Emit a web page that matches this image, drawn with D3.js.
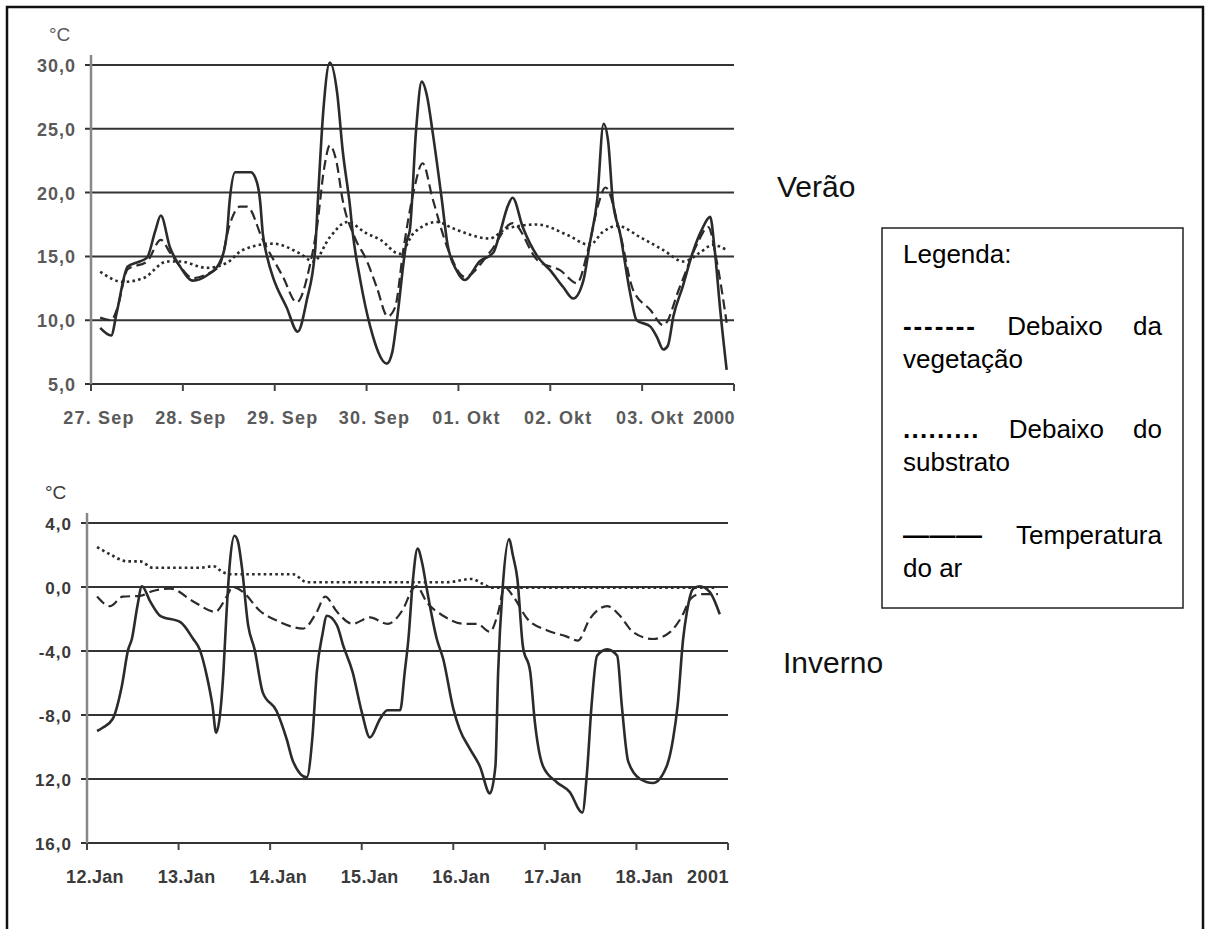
<!DOCTYPE html>
<html>
<head>
<meta charset="utf-8">
<script src="https://cdn.jsdelivr.net/npm/d3@7"></script>
<style>
  body { margin: 0; background: #fff; }
  svg { display: block; }
</style>
</head>
<body>
<svg id="chart" width="1208" height="929"></svg>
<script>
// Verão (27 Sep - 03 Okt 2000), [day offset, °C]
const summerAir = [[0.10,9.4],[0.22,8.8],[0.28,10.6],[0.40,14.2],[0.53,14.6],[0.61,14.9],[0.70,17.0],[0.76,18.2],[0.86,15.7],[0.97,14.2],[1.11,13.1],[1.26,13.5],[1.40,14.5],[1.48,16.8],[1.51,19.4],[1.57,21.6],[1.74,21.6],[1.81,20.7],[1.84,19.4],[1.87,16.8],[1.92,14.9],[1.98,13.4],[2.13,11.0],[2.25,9.1],[2.35,11.6],[2.44,15.5],[2.47,19.4],[2.53,26.5],[2.60,30.2],[2.68,27.8],[2.74,23.3],[2.82,18.9],[2.85,16.8],[2.93,13.2],[3.04,9.5],[3.22,6.6],[3.28,7.5],[3.33,10.0],[3.44,16.3],[3.47,17.0],[3.54,25.0],[3.60,28.7],[3.66,27.5],[3.72,24.7],[3.82,19.4],[3.88,16.0],[3.98,13.9],[4.07,13.15],[4.23,14.6],[4.38,15.3],[4.45,16.8],[4.54,19.0],[4.59,19.6],[4.70,17.3],[4.86,15.0],[5.00,13.9],[5.14,12.6],[5.25,11.7],[5.36,13.1],[5.43,16.0],[5.51,19.4],[5.58,25.4],[5.63,24.0],[5.68,19.4],[5.76,16.8],[5.87,12.1],[5.94,10.0],[6.09,9.5],[6.16,8.7],[6.23,7.7],[6.28,8.0],[6.34,10.3],[6.44,12.6],[6.55,15.3],[6.65,17.1],[6.74,18.1],[6.79,15.5],[6.85,10.8],[6.92,6.1]];
const summerVeg = [[0.10,10.2],[0.22,10.0],[0.28,10.8],[0.40,14.0],[0.61,14.6],[0.76,16.3],[0.86,15.3],[0.97,14.2],[1.11,13.3],[1.26,13.6],[1.40,14.3],[1.51,17.5],[1.62,18.9],[1.70,18.9],[1.87,16.3],[2.09,13.4],[2.24,11.4],[2.38,14.2],[2.46,17.3],[2.54,22.0],[2.60,23.7],[2.67,22.5],[2.74,19.4],[2.87,16.5],[3.00,14.7],[3.11,12.6],[3.23,10.3],[3.31,11.0],[3.40,15.5],[3.51,20.0],[3.61,22.3],[3.72,19.5],[3.89,15.5],[4.07,13.4],[4.34,15.3],[4.59,17.6],[4.86,14.7],[5.11,13.9],[5.29,12.9],[5.41,15.5],[5.52,19.0],[5.60,20.4],[5.76,16.8],[5.90,12.4],[6.09,10.8],[6.23,9.6],[6.41,12.6],[6.60,16.0],[6.72,17.3],[6.81,14.7],[6.92,9.8]];
const summerSub = [[0.10,13.8],[0.35,13.0],[0.57,13.3],[0.83,14.6],[0.97,14.6],[1.26,14.1],[1.48,14.5],[1.65,15.5],[1.98,16.0],[2.28,15.2],[2.42,14.6],[2.60,16.5],[2.79,17.7],[3.00,16.8],[3.15,16.3],[3.36,15.2],[3.51,16.8],[3.77,17.7],[3.94,17.2],[4.34,16.4],[4.53,17.2],[4.86,17.5],[5.18,16.7],[5.43,15.9],[5.57,16.9],[5.73,17.4],[5.98,16.5],[6.23,15.5],[6.45,14.6],[6.63,15.3],[6.77,15.9],[6.92,15.5]];

// Inverno (12 - 18 Jan 2001)
const winterAir = [[0.11,-9.0],[0.17,-8.8],[0.28,-8.25],[0.38,-6.2],[0.45,-3.9],[0.49,-3.25],[0.55,-1.2],[0.60,0.05],[0.69,-0.9],[0.80,-1.8],[1.02,-2.2],[1.16,-3.25],[1.23,-3.9],[1.31,-5.6],[1.37,-7.4],[1.41,-9.1],[1.45,-8.1],[1.49,-5.3],[1.52,-2.0],[1.56,1.5],[1.61,3.2],[1.65,2.8],[1.69,1.3],[1.76,-2.4],[1.83,-3.9],[1.92,-6.6],[2.07,-7.75],[2.18,-9.5],[2.25,-10.9],[2.40,-11.9],[2.46,-9.5],[2.51,-5.3],[2.57,-3.0],[2.62,-1.8],[2.73,-2.4],[2.80,-3.7],[2.90,-5.3],[3.00,-7.8],[3.09,-9.4],[3.20,-8.25],[3.28,-7.7],[3.42,-7.7],[3.47,-5.3],[3.51,-3.25],[3.56,0.5],[3.61,2.4],[3.66,1.5],[3.71,-0.1],[3.82,-3.25],[3.89,-4.5],[4.00,-7.6],[4.07,-8.9],[4.18,-10.1],[4.29,-11.2],[4.40,-12.9],[4.46,-11.2],[4.49,-5.3],[4.54,0.0],[4.61,3.0],[4.65,2.0],[4.70,0.5],[4.76,-3.7],[4.84,-5.3],[4.89,-8.4],[4.98,-11.2],[5.13,-12.2],[5.27,-12.8],[5.41,-14.1],[5.46,-11.6],[5.51,-7.4],[5.57,-4.3],[5.68,-3.9],[5.79,-4.3],[5.84,-7.4],[5.91,-10.9],[6.04,-12.0],[6.18,-12.25],[6.33,-11.2],[6.40,-9.5],[6.45,-7.4],[6.51,-3.25],[6.55,-1.6],[6.62,-0.1],[6.69,0.05],[6.80,-0.3],[6.91,-1.7]];
const winterVeg = [[0.11,-0.6],[0.25,-1.2],[0.39,-0.6],[0.58,-0.55],[0.72,-0.25],[0.91,-0.1],[1.16,-0.9],[1.40,-1.55],[1.53,-0.55],[1.59,0.0],[1.70,-0.3],[1.89,-1.5],[2.07,-2.1],[2.25,-2.5],[2.36,-2.6],[2.51,-1.55],[2.60,-0.6],[2.73,-1.55],[2.90,-2.3],[3.09,-1.9],[3.28,-2.3],[3.45,-1.4],[3.56,-0.1],[3.60,0.05],[3.71,-0.95],[3.89,-1.8],[4.11,-2.3],[4.26,-2.3],[4.40,-2.8],[4.49,-1.6],[4.56,0.0],[4.65,-0.55],[4.81,-2.0],[5.02,-2.7],[5.24,-3.1],[5.36,-3.35],[5.49,-2.0],[5.68,-1.2],[5.82,-1.8],[5.96,-2.8],[6.18,-3.25],[6.37,-2.8],[6.50,-1.8],[6.59,-0.75],[6.69,-0.45],[6.89,-0.45]];
const winterSub = [[0.11,2.5],[0.25,2.05],[0.44,1.6],[0.58,1.6],[0.72,1.2],[1.23,1.2],[1.38,1.3],[1.49,0.9],[1.59,0.8],[2.25,0.8],[2.40,0.3],[3.93,0.3],[4.20,0.5],[4.32,0.2],[4.43,-0.05],[6.88,-0.05]];

const summerTicks = [5, 10, 15, 20, 25, 30];
const summerTickLabels = ["5,0", "10,0", "15,0", "20,0", "25,0", "30,0"];
const summerDays = ["27. Sep", "28. Sep", "29. Sep", "30. Sep", "01. Okt", "02. Okt", "03. Okt"];
const winterTicks = [4, 0, -4, -8, -12, -16];
const winterTickLabels = ["4,0", "0,0", "-4,0", "-8,0", "12,0", "16,0"];
const winterDays = ["12.Jan", "13.Jan", "14.Jan", "15.Jan", "16.Jan", "17.Jan", "18.Jan"];

const svg = d3.select("#chart");
const ink = "#2b2b2b";
const font = "Liberation Sans, Arial, sans-serif";

// outer frame (open at the bottom)
svg.append("path")
  .attr("d", "M7,929 V7 H1203 V929")
  .attr("fill", "none")
  .attr("stroke", "#111")
  .attr("stroke-width", 2.5);

function drawPanel(opt) {
  const x = d3.scaleLinear().domain([0, 7]).range([opt.left, opt.right]);
  const y = d3.scaleLinear().domain(opt.domain).range([opt.bottom, opt.top]);
  const g = svg.append("g");

  // horizontal grid lines (bottom one is the x axis)
  g.selectAll(".grid")
    .data(opt.ticks)
    .join("line")
    .attr("x1", opt.left - 6)
    .attr("x2", opt.right)
    .attr("y1", d => y(d))
    .attr("y2", d => y(d))
    .attr("stroke", "#333")
    .attr("stroke-width", 2);

  g.append("line")
    .attr("x1", opt.left).attr("x2", opt.left)
    .attr("y1", opt.top - 10).attr("y2", opt.bottom)
    .attr("stroke", "#888")
    .attr("stroke-width", 2.5);

  // day ticks
  g.selectAll(".xtick")
    .data(d3.range(8))
    .join("line")
    .attr("x1", d => x(d)).attr("x2", d => x(d))
    .attr("y1", opt.bottom).attr("y2", opt.bottom + 7)
    .attr("stroke", "#444")
    .attr("stroke-width", 2);

  g.selectAll(".ylab")
    .data(opt.ticks)
    .join("text")
    .attr("x", opt.left - 15)
    .attr("y", d => y(d) + 7)
    .attr("text-anchor", "end")
    .attr("font-family", font)
    .attr("font-weight", "bold")
    .attr("font-size", opt.yFont)
    .attr("letter-spacing", 1)
    .attr("fill", opt.textColor)
    .text((d, i) => opt.tickLabels[i]);

  g.selectAll(".xlab")
    .data(opt.days)
    .join("text")
    .attr("x", (d, i) => x(i) + 8)
    .attr("y", opt.bottom + 40)
    .attr("text-anchor", "middle")
    .attr("font-family", font)
    .attr("font-weight", "bold")
    .attr("font-size", 18)
    .attr("letter-spacing", opt.xSpacing)
    .attr("fill", opt.textColor)
    .text(d => d);

  g.append("text")
    .attr("x", opt.right + 1)
    .attr("y", opt.bottom + 40)
    .attr("text-anchor", "end")
    .attr("font-family", font)
    .attr("font-weight", "bold")
    .attr("font-size", 18)
    .attr("letter-spacing", 0.5)
    .attr("fill", opt.textColor)
    .text(opt.year);

  g.append("text")
    .attr("x", opt.left - 42)
    .attr("y", opt.top - 24)
    .attr("font-family", font)
    .attr("font-size", 19)
    .attr("fill", opt.textColor)
    .text("°C");

  const line = d3.line()
    .x(d => x(d[0]))
    .y(d => y(d[1]))
    .curve(d3.curveMonotoneX);

  g.append("path").datum(opt.sub)
    .attr("d", line)
    .attr("fill", "none")
    .attr("stroke", ink)
    .attr("stroke-width", 2.6)
    .attr("stroke-dasharray", "2.6,3.2");

  g.append("path").datum(opt.veg)
    .attr("d", line)
    .attr("fill", "none")
    .attr("stroke", ink)
    .attr("stroke-width", 2.2)
    .attr("stroke-dasharray", "10,5");

  g.append("path").datum(opt.air)
    .attr("d", line)
    .attr("fill", "none")
    .attr("stroke", ink)
    .attr("stroke-width", 2.6)
    .attr("stroke-linejoin", "round");
}

drawPanel({
  left: 91, right: 734, top: 65, bottom: 384,
  domain: [5, 30], ticks: summerTicks, tickLabels: summerTickLabels,
  days: summerDays, year: "2000", yFont: 18, xSpacing: 1.2, textColor: "#5a5a5a",
  air: summerAir, veg: summerVeg, sub: summerSub
});

drawPanel({
  left: 87, right: 728, top: 523, bottom: 843,
  domain: [-16, 4], ticks: winterTicks, tickLabels: winterTickLabels,
  days: winterDays, year: "2001", yFont: 17, xSpacing: 0.3, textColor: "#3a3a3a",
  air: winterAir, veg: winterVeg, sub: winterSub
});

// season titles
svg.append("text").attr("x", 777).attr("y", 197)
  .attr("font-family", font).attr("font-size", 30).attr("fill", "#111").text("Verão");
svg.append("text").attr("x", 783).attr("y", 673)
  .attr("font-family", font).attr("font-size", 30).attr("fill", "#111").text("Inverno");

// legend box
const lg = { x: 882, y: 228, w: 301, h: 380, pad: 21 };
svg.append("rect")
  .attr("x", lg.x).attr("y", lg.y).attr("width", lg.w).attr("height", lg.h)
  .attr("fill", "#fff").attr("stroke", "#222").attr("stroke-width", 1.5);

const tx0 = lg.x + lg.pad, tx1 = lg.x + lg.w - lg.pad;
function legendText(str, x, yy, anchor, bold, spacing) {
  return svg.append("text")
    .attr("x", x).attr("y", yy)
    .attr("text-anchor", anchor || "start")
    .attr("font-family", font)
    .attr("font-size", 26)
    .attr("font-weight", bold ? "bold" : "normal")
    .attr("letter-spacing", spacing || 0)
    .attr("fill", "#000")
    .text(str);
}

legendText("Legenda:", tx0, 263);

const entries = [
  { marker: "-------", spacing: 1.9, words: ["Debaixo", "da"], second: "vegetação", y: 335 },
  { marker: ".........", spacing: 1.3, words: ["Debaixo", "do"], second: "substrato", y: 438 },
  { marker: "———", spacing: 0.5, words: ["Temperatura"], second: "do ar", y: 544 }
];

entries.forEach(e => {
  const m = legendText(e.marker, tx0, e.y, "start", true, e.spacing);
  const mw = m.node().getComputedTextLength();
  if (e.words.length === 2) {
    const a = legendText(e.words[0], 0, e.y);
    const b = legendText(e.words[1], tx1, e.y, "end");
    const aw = a.node().getComputedTextLength();
    const bw = b.node().getComputedTextLength();
    const gap = (tx1 - tx0 - mw - aw - bw) / 2;
    a.attr("x", tx0 + mw + gap);
  } else {
    legendText(e.words[0], tx1, e.y, "end");
  }
  legendText(e.second, tx0, e.y + 33);
});
</script>
</body>
</html>
